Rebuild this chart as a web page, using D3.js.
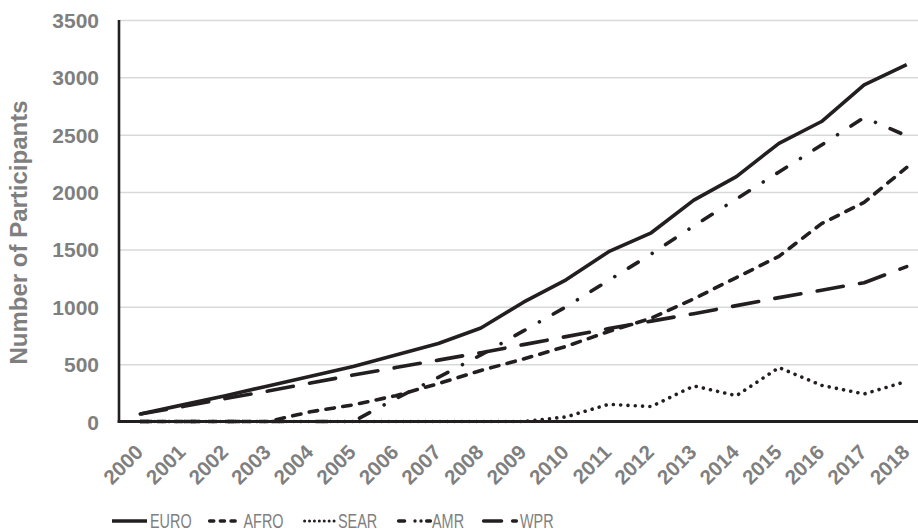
<!DOCTYPE html>
<html>
<head>
<meta charset="utf-8">
<script src="https://cdn.jsdelivr.net/npm/d3@7"></script>
<style>
  html, body { margin: 0; padding: 0; background: #ffffff; }
  svg { display: block; font-family: "Liberation Sans", Arial, sans-serif; }
</style>
</head>
<body>
<svg id="chart" width="918" height="532"></svg>
<script>
const years = ["2000","2001","2002","2003","2004","2005","2006","2007","2008","2009","2010","2011","2012","2013","2014","2015","2016","2017","2018"];
const EURO = [65, 145, 225, 310, 395, 480, 580, 680, 815, 1040, 1235, 1480, 1645, 1930, 2135, 2425, 2615, 2935, 3110];
const AFRO = [0, 0, 0, 0, 85, 145, 225, 330, 445, 545, 655, 785, 900, 1070, 1255, 1440, 1725, 1910, 2215];
const SEAR = [0, 0, 0, 0, 0, 0, 0, 0, 0, 0, 40, 150, 130, 310, 225, 470, 315, 240, 350];
const AMR  = [0, 0, 0, 0, 0, 0, 200, 385, 580, 790, 1000, 1230, 1460, 1705, 1940, 2175, 2410, 2650, 2490];
const WPR  = [65, 130, 200, 265, 335, 405, 470, 535, 600, 670, 740, 810, 875, 940, 1010, 1080, 1145, 1210, 1350];
const yTicks = [0, 500, 1000, 1500, 2000, 2500, 3000, 3500];
const seriesNames = ["EURO", "AFRO", "SEAR", "AMR", "WPR"];
const yTitle = "Number of Participants";

const series = [
  { name: "EURO", values: EURO, dash: null,                 legendDash: null },
  { name: "AFRO", values: AFRO, dash: "8.5,8.5",            legendDash: "4.2,6.5" },
  { name: "SEAR", values: SEAR, dash: "0.01,7.3",           legendDash: "0.01,4.9" },
  { name: "AMR",  values: AMR,  dash: "11.5,16.5,0.01,16",  legendDash: "6,10.4,0.01,6,0.01,5.6,20" },
  { name: "WPR",  values: WPR,  dash: "26.5,16.5",          legendDash: "18,11,20" }
];

const ink = "#231f20";
const grey = "#7f7f7f";
const svg = d3.select("#chart");

const x = d3.scaleBand().domain(years).range([119, 928]).padding(0);
const xc = d => x(d) + x.bandwidth() / 2;
const y = d3.scaleLinear().domain([0, 3500]).range([421.5, 20]);

// gridlines
const grid = d3.axisLeft(y).tickValues(yTicks).tickSize(-(928 - 119)).tickFormat("");
const gg = svg.append("g").attr("transform", "translate(119,0)").call(grid);
gg.select(".domain").remove();
gg.selectAll("line").attr("stroke", "#d9d9d9").attr("stroke-width", 1.5);

// y axis labels
const yAxis = d3.axisLeft(y).tickValues(yTicks).tickSize(0).tickPadding(20).tickFormat(d3.format("d"));
const ya = svg.append("g").attr("transform", "translate(119,0)").call(yAxis);
ya.select(".domain").remove();
ya.selectAll("text")
  .attr("fill", grey).attr("font-size", 21).attr("font-weight", "bold")
  .attr("font-family", "'Liberation Sans', Arial, sans-serif")
  .attr("dy", "0.36em");

// x axis labels
const xAxis = d3.axisBottom(x).tickSize(0).tickFormat(d => d);
const xa = svg.append("g").attr("transform", "translate(0,421.5)").call(xAxis);
xa.select(".domain").remove();
xa.selectAll("text")
  .attr("fill", grey).attr("font-size", 20.5).attr("font-weight", "bold")
  .attr("font-family", "'Liberation Sans', Arial, sans-serif")
  .attr("text-anchor", "end")
  .attr("y", 0).attr("dy", 0)
  .attr("transform", "translate(4,32) rotate(-45)");

// y title
svg.append("text")
  .attr("transform", "translate(26.5,232.5) rotate(-90)")
  .attr("text-anchor", "middle")
  .attr("fill", grey).attr("font-size", 24).attr("font-weight", "bold")
  .text(yTitle);

// axis lines
svg.append("line").attr("x1", 119).attr("x2", 119).attr("y1", 20).attr("y2", 423)
  .attr("stroke", ink).attr("stroke-width", 2.6);
svg.append("line").attr("x1", 117.7).attr("x2", 930).attr("y1", 421.5).attr("y2", 421.5)
  .attr("stroke", ink).attr("stroke-width", 2.8);

// series lines
const line = d3.line().x((d, i) => xc(years[i])).y(d => y(d));
series.forEach(s => {
  svg.append("path")
    .attr("d", line(s.values))
    .attr("fill", "none")
    .attr("stroke", ink)
    .attr("stroke-width", 3.6)
    .attr("stroke-linejoin", "round")
    .attr("stroke-linecap", s.dash ? "round" : "butt")
    .attr("stroke-dasharray", s.dash);
});

// legend
const legendLayout = [
  { x1: 112, x2: 147, tx: 150 },
  { x1: 209.6, x2: 241.4, tx: 243.5 },
  { x1: 304.6, x2: 335.4, tx: 338 },
  { x1: 398.6, x2: 430.4, tx: 432 },
  { x1: 483.6, x2: 516.4, tx: 520 }
];
const ly = 521;
series.forEach((s, i) => {
  const L = legendLayout[i];
  const g = svg.append("g");
  g.append("line")
    .attr("x1", L.x1).attr("x2", L.x2).attr("y1", ly).attr("y2", ly)
    .attr("stroke", ink)
    .attr("stroke-width", s.name === "SEAR" ? 3 : 3.4)
    .attr("stroke-linecap", s.legendDash ? "round" : "butt")
    .attr("stroke-dasharray", s.legendDash);
  g.append("text")
    .attr("transform", `translate(${L.tx},528) scale(0.74,1)`)
    .attr("fill", grey).attr("font-size", 19.5)
    .text(seriesNames[i]);
});
</script>
</body>
</html>
